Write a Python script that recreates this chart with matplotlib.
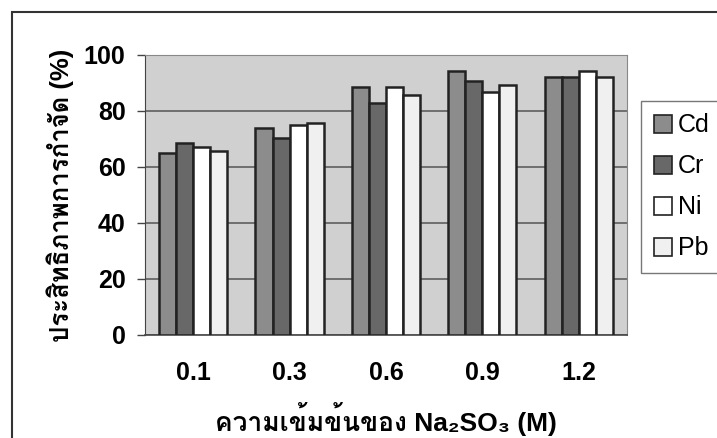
import numpy as np
import matplotlib
matplotlib.use("Agg")
import matplotlib.pyplot as plt
from matplotlib import font_manager
from matplotlib.ft2font import FT2Font
from matplotlib.patches import Rectangle

concentrations = ["0.1", "0.3", "0.6", "0.9", "1.2"]
metals = ["Cd", "Cr", "Ni", "Pb"]
removal = {
    "Cd": [65.0, 73.8, 88.7, 94.4, 92.3],
    "Cr": [68.7, 70.5, 83.0, 90.8, 92.3],
    "Ni": [67.3, 75.0, 88.5, 86.7, 94.4],
    "Pb": [65.8, 75.8, 85.7, 89.3, 92.3],
}
bar_colors = {"Cd": "#8c8c8c", "Cr": "#686868", "Ni": "#ffffff", "Pb": "#f0f0f0"}


def thai_family():
    """First installed family that has Thai glyphs."""
    for f in font_manager.fontManager.ttflist:
        try:
            if ord("ก") in FT2Font(f.fname).get_charmap():
                return f.name
        except Exception:
            continue
    return "DejaVu Sans"


thai = thai_family()
plt.rcParams["font.family"] = ["Liberation Sans", thai, "DejaVu Sans"]

fig = plt.figure(figsize=(7.17, 4.38), dpi=100)
ax = fig.add_axes([0.2022, 0.2352, 0.6722, 0.6393])

# outer chart frame
fig.patches.append(Rectangle((0.0167, -0.05), 1.2, 1.0226, transform=fig.transFigure,
                             fill=False, edgecolor="#333333", linewidth=1.5))

ax.set_facecolor("#d0d0d0")
x = np.arange(len(concentrations))
w = 0.177
for i, m in enumerate(metals):
    ax.bar(x + (i - 1.5) * w, removal[m], width=w, color=bar_colors[m],
           edgecolor="#222222", linewidth=1.8, label=m, zorder=3)

ax.set_xlim(-0.5, len(concentrations) - 0.5)
ax.set_ylim(0, 100)
ax.set_yticks(range(0, 101, 20))
ax.yaxis.grid(True, color="#555555", linewidth=1.1, zorder=1)
ax.set_axisbelow(True)

ax.set_xticks(x)
ax.set_xticklabels(concentrations)
ax.tick_params(axis="x", length=0, pad=19)
ax.tick_params(axis="y", length=6, width=1, color="#444444", pad=8)
for lbl in ax.get_xticklabels() + ax.get_yticklabels():
    lbl.set_fontsize(18)
    lbl.set_fontweight("bold")

for side in ["top", "right"]:
    ax.spines[side].set_color("#888888")
    ax.spines[side].set_linewidth(0.8)
ax.spines["left"].set_color("#444444")
ax.spines["bottom"].set_color("#444444")
ax.spines["bottom"].set_linewidth(1.2)

ax.set_ylabel("ประสิทธิภาพการกำจัด (%)", fontsize=18.5, fontweight="bold", labelpad=7)
ax.set_xlabel("ความเข้มข้นของ Na₂SO₃ (M)", fontsize=19, fontweight="bold", labelpad=12)

leg = ax.legend(loc="upper left", bbox_to_anchor=(1.03, 0.836), fontsize=18,
                frameon=True, fancybox=False, edgecolor="#555555",
                handlelength=0.72, handleheight=0.72, handletextpad=0.25,
                labelspacing=0.68, borderpad=0.5, borderaxespad=0)
leg.get_frame().set_linewidth(1.0)
for h in leg.legend_handles:
    h.set_linewidth(1.2)
    h.set_edgecolor("#222222")

fig.savefig("out.png", dpi=100)
